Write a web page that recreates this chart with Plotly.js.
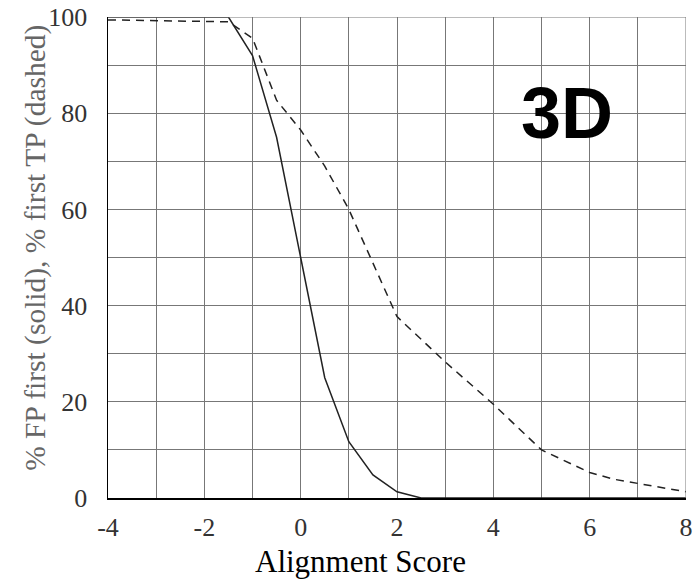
<!DOCTYPE html>
<html>
<head>
<meta charset="utf-8">
<script src="https://cdn.plot.ly/plotly-3.0.1.min.js"></script>
<style>html,body{margin:0;padding:0;background:#fff;}#chart{width:694px;height:581px;}</style>
</head>
<body>
<div id="chart"></div>
<script>
var fpScore = [-4, -1.5, -1, -0.5, 0, 0.5, 1, 1.5, 2, 2.5, 8];
var fpPct   = [100, 100, 92, 75, 50, 25, 11.7, 4.8, 1.3, 0, 0];
var tpScore = [-4, -1.5, -1, -0.5, 0, 0.5, 1, 1.5, 2, 3, 4, 5, 6, 6.5, 8];
var tpPct   = [99.4, 99, 95.6, 82.7, 76.5, 69, 60, 49, 37.7, 28.3, 19.5, 10, 5.3, 3.9, 1.3];
var xTicks = [-4, -2, 0, 2, 4, 6, 8];
var yTicks = [0, 20, 40, 60, 80, 100];

var SERIF = 'Liberation Serif, Times New Roman, DejaVu Serif, serif';

var traces = [
  {x: fpScore, y: fpPct, mode: 'lines', line: {color: '#222', width: 1.5}, showlegend: false, hoverinfo: 'skip'},
  {x: tpScore, y: tpPct, mode: 'lines', line: {color: '#222', width: 1.5, dash: '8px,6px'}, showlegend: false, hoverinfo: 'skip'}
];

var layout = {
  width: 694, height: 581,
  margin: {l: 108, r: 8, t: 17, b: 83},
  paper_bgcolor: '#fff', plot_bgcolor: '#fff',
  font: {family: SERIF, color: '#333'},
  xaxis: {
    range: [-4, 8], tickvals: xTicks, ticktext: xTicks.map(String),
    showgrid: true, gridcolor: '#777', gridwidth: 1,
    minor: {dtick: 1, tick0: -4, showgrid: true, gridcolor: '#777', gridwidth: 1},
    zeroline: false, showline: true, linecolor: '#000', linewidth: 1.5,
    ticks: '', ticklabelstandoff: 5,
    tickfont: {size: 26, color: '#333', family: SERIF}
  },
  yaxis: {
    range: [0, 100], tickvals: yTicks, ticktext: yTicks.map(String),
    showgrid: true, gridcolor: '#777', gridwidth: 1,
    minor: {dtick: 10, tick0: 0, showgrid: true, gridcolor: '#777', gridwidth: 1},
    zeroline: false, showline: true, linecolor: '#000', linewidth: 1.5,
    ticks: '', ticklabelstandoff: 14,
    tickfont: {size: 26, color: '#333', family: SERIF}
  },
  shapes: [
    {type: 'line', xref: 'x', yref: 'y', x0: 8, x1: 8, y0: 0, y1: 100, line: {color: '#777', width: 1}},
    {type: 'line', xref: 'x', yref: 'y', x0: -4, x1: 8, y0: 100, y1: 100, line: {color: '#777', width: 1}}
  ],
  annotations: [
    {x: 0.436, y: -0.131, xref: 'paper', yref: 'paper', xanchor: 'center', yanchor: 'middle',
     text: 'Alignment Score', showarrow: false, font: {family: SERIF, size: 31, color: '#000'}},
    {x: -0.1246, y: 0.52, xref: 'paper', yref: 'paper', xanchor: 'center', yanchor: 'middle', textangle: -90,
     text: '% FP first (solid), % first TP (dashed)', showarrow: false, font: {family: SERIF, size: 29.5, color: '#666'}},
    {x: 5.53, y: 80, xref: 'x', yref: 'y', text: '<b>3D</b>', showarrow: false,
     font: {family: 'Liberation Sans, Arial, sans-serif', size: 72, color: '#000'}},
    {x: 0, y: 1.012, xref: 'paper', yref: 'paper', ax: 0, ay: 1, text: '',
     showarrow: true, arrowhead: 2, arrowsize: 0.6, arrowwidth: 1.2, arrowcolor: '#000', standoff: 0},
    {x: 1.008, y: 0, xref: 'paper', yref: 'paper', ax: -1, ay: 0, text: '',
     showarrow: true, arrowhead: 2, arrowsize: 0.6, arrowwidth: 1.2, arrowcolor: '#000', standoff: 0}
  ]
};

Plotly.newPlot('chart', traces, layout, {staticPlot: true, displayModeBar: false});
</script>
</body>
</html>
